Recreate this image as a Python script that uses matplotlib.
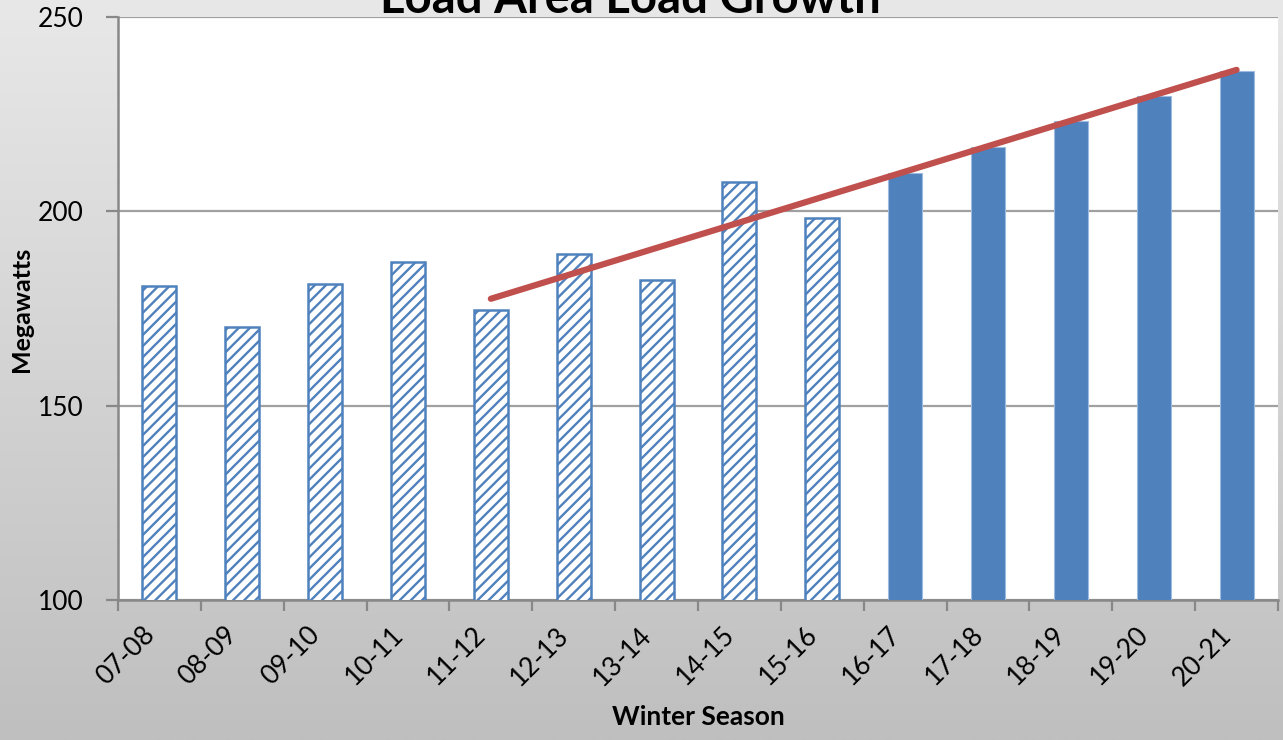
import numpy as np
import matplotlib
matplotlib.use("Agg")
import matplotlib.pyplot as plt
import matplotlib.transforms as mtransforms
from matplotlib.colors import LinearSegmentedColormap

seasons = ["07-08", "08-09", "09-10", "10-11", "11-12", "12-13", "13-14",
           "14-15", "15-16", "16-17", "17-18", "18-19", "19-20", "20-21"]
actual_load = [180.8, 170.2, 181.3, 187.0, 174.6, 189.0, 182.3, 207.6, 198.3]
forecast_load = [209.9, 216.6, 223.2, 229.7, 236.1]
trend_seasons = ["11-12", "20-21"]
trend_values = [177.5, 236.4]

title = "Load Area Load Growth"
xlabel = "Winter Season"
ylabel = "Megawatts"
yticks = [100, 150, 200, 250]

plt.rcParams['font.family'] = ['Lato', 'DejaVu Sans']
plt.rcParams['hatch.linewidth'] = 1.7
plt.rcParams['hatch.color'] = '#5b8cc6'

fig = plt.figure(figsize=(12.83, 7.40), dpi=100)

# background gradient
bg = fig.add_axes([0, 0, 1, 1], zorder=-10)
grad = np.linspace(0, 1, 256).reshape(-1, 1)
cmap = LinearSegmentedColormap.from_list("bg", ["#e8e8e8", "#bfbfbf"])
bg.imshow(grad, aspect='auto', cmap=cmap, extent=[0, 1, 0, 1])
bg.set_axis_off()

ax = fig.add_axes([118/1283, 140/740, 1160/1283, 583/740])
ax.set_facecolor('white')

x = np.arange(len(seasons))
n_act = len(actual_load)
blue = '#4f81bd'
ax.bar(x[:n_act], actual_load, width=0.41, facecolor='white',
       edgecolor=blue, hatch='///', linewidth=1.8, zorder=3)
ax.bar(x[n_act:], forecast_load, width=0.41, facecolor=blue,
       edgecolor='#9dbbe0', linewidth=0.8, zorder=3)

tx = [seasons.index(s) for s in trend_seasons]
ax.plot(tx, trend_values, color='#c0504d', linewidth=4.5,
        solid_capstyle='round', zorder=4)

ax.set_xlim(-0.5, len(seasons) - 0.5)
ax.set_ylim(100, 250)
ax.set_yticks(yticks)
ax.set_yticklabels([str(v) for v in yticks], fontsize=19)
ax.yaxis.grid(True, color='#a0a0a0', linewidth=1.6, zorder=0)
ax.set_axisbelow(True)

ax.set_xticks(np.arange(-0.5, len(seasons), 1.0))
ax.set_xticklabels([])
ax.set_xticks(x, minor=True)
ax.set_xticklabels(seasons, minor=True, rotation=45, ha='right', va='top',
                   fontsize=19)
offset = mtransforms.ScaledTranslation(7/100, 0, fig.dpi_scale_trans)
for lab in ax.xaxis.get_minorticklabels():
    lab.set_transform(lab.get_transform() + offset)
ax.tick_params(axis='x', which='minor', length=0, pad=16)
ax.tick_params(axis='x', which='major', length=8, width=1.6, color='#888888', direction='out')
ax.tick_params(axis='y', length=9, width=1.6, color='#888888', direction='out', pad=16)

for s in ['top', 'right']:
    ax.spines[s].set_visible(False)
for s in ['left', 'bottom']:
    ax.spines[s].set_color('#888888')
    ax.spines[s].set_linewidth(1.8)

ax.set_ylabel(ylabel, fontsize=18, fontweight='bold')
ax.set_xlabel(xlabel, fontsize=19, fontweight='bold')
ax.yaxis.set_label_coords(-0.0835, 0.498)
ax.yaxis.label.set_va('center')
ax.xaxis.label.set_va('center')
ax.xaxis.set_label_coords(0.5, -(717 - 600) / 583)

fig.text(630/1283, 1 - 13/740, title, fontsize=34, fontweight='bold',
         ha='center', va='baseline')

fig.savefig("out.png", dpi=100)
